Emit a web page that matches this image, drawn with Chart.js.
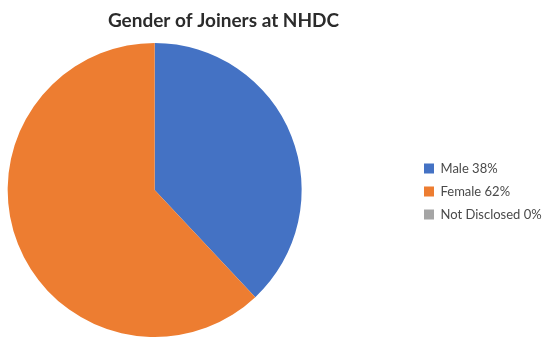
<!DOCTYPE html>
<html>
<head>
<meta charset="utf-8">
<title>Gender of Joiners at NHDC</title>
<script src="https://cdn.jsdelivr.net/npm/chart.js@4/dist/chart.umd.min.js"></script>
<style>
    html, body { margin: 0; padding: 0; background: #fff; }
    #wrap { width: 544px; height: 338px; position: relative; }
</style>
</head>
<body>
<div id="wrap"><canvas id="genderChart"></canvas></div>
<script>
const categories = ['Male', 'Female', 'Not Disclosed'];
const shares = [38, 62, 0];
const sliceColors = ['#4472C4', '#ED7D31', '#A5A5A5'];

// legend sits well to the right of the pie, so move it after layout
const legendShift = {
    id: 'legendShift',
    afterLayout(chart) {
        const lg = chart.legend;
        const dx = 414 - lg.left;
        lg.left += dx;
        lg.right += dx;
        lg.top += 23;
        lg.bottom += 23;
    }
};

document.addEventListener('DOMContentLoaded', function () {
    const ctx = document.getElementById('genderChart').getContext('2d');
    const genderChart = new Chart(ctx, {
        type: 'pie',
        data: {
            labels: categories.map((c, i) => c + ' ' + shares[i] + '%'),
            datasets: [{
                data: shares,
                backgroundColor: sliceColors,
                borderWidth: 0
            }]
        },
        options: {
            responsive: true,
            maintainAspectRatio: false,
            animation: false,
            layout: {
                padding: { left: 4, right: 101, top: 0, bottom: 1 }
            },
            plugins: {
                title: {
                    display: true,
                    text: 'Gender of Joiners at NHDC',
                    color: '#2b2b2b',
                    font: { family: 'Lato', size: 19, weight: 'bold' },
                    padding: { top: 9, bottom: 11.2 }
                },
                legend: {
                    position: 'right',
                    align: 'center',
                    labels: {
                        color: '#4a4a4a',
                        font: { family: 'Lato', size: 13 },
                        boxWidth: 10,
                        boxHeight: 10,
                        padding: 10
                    }
                },
                tooltip: { enabled: false }
            }
        },
        plugins: [legendShift]
    });
});
</script>
</body>
</html>
